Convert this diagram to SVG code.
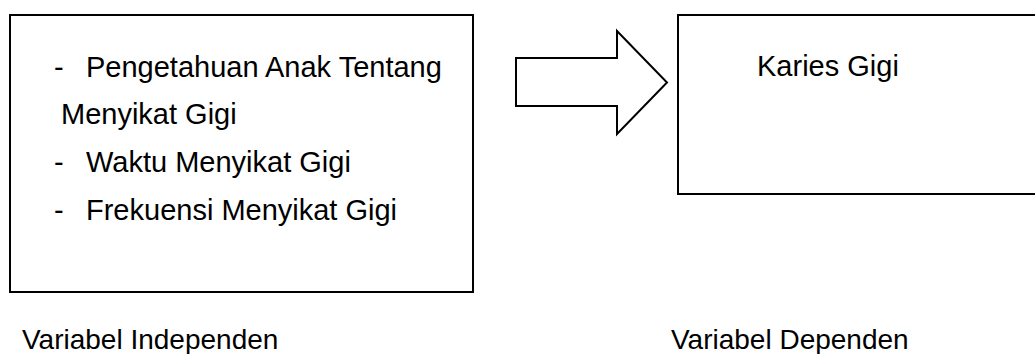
<svg xmlns="http://www.w3.org/2000/svg" width="1035" height="354" viewBox="0 0 1035 354">
  <style>
    .box { fill: #ffffff; stroke: #000000; stroke-width: 2; }
    .txt { font-family: "Liberation Sans", Arial, sans-serif; font-size: 29px; fill: #000000; }
    .cap { font-family: "Liberation Sans", Arial, sans-serif; font-size: 28px; fill: #000000; }
  </style>
  <rect width="1035" height="354" fill="#ffffff"/>

  <!-- independent variables -->
  <g id="independen">
    <rect class="box" x="10" y="15" width="463" height="277"/>
    <text class="txt" x="54" y="77">-</text>
    <text class="txt" x="86" y="77">Pengetahuan Anak Tentang</text>
    <text class="txt" x="61" y="124">Menyikat Gigi</text>
    <text class="txt" x="54" y="172">-</text>
    <text class="txt" x="86" y="172">Waktu Menyikat Gigi</text>
    <text class="txt" x="54" y="220">-</text>
    <text class="txt" x="86" y="220">Frekuensi Menyikat Gigi</text>
  </g>

  <!-- dependent variable -->
  <g id="dependen">
    <rect class="box" x="678" y="15" width="370" height="179"/>
    <text class="txt" x="757" y="76">Karies Gigi</text>
  </g>

  <!-- block arrow -->
  <g id="connectors">
    <path class="box" d="M516,58 L617,58 L617,31 L667,82.5 L617,134 L617,106 L516,106 Z"/>
  </g>

  <!-- captions -->
  <g id="labels">
    <text class="cap" x="22" y="349">Variabel Independen</text>
    <text class="cap" x="671" y="349">Variabel Dependen</text>
  </g>
</svg>
